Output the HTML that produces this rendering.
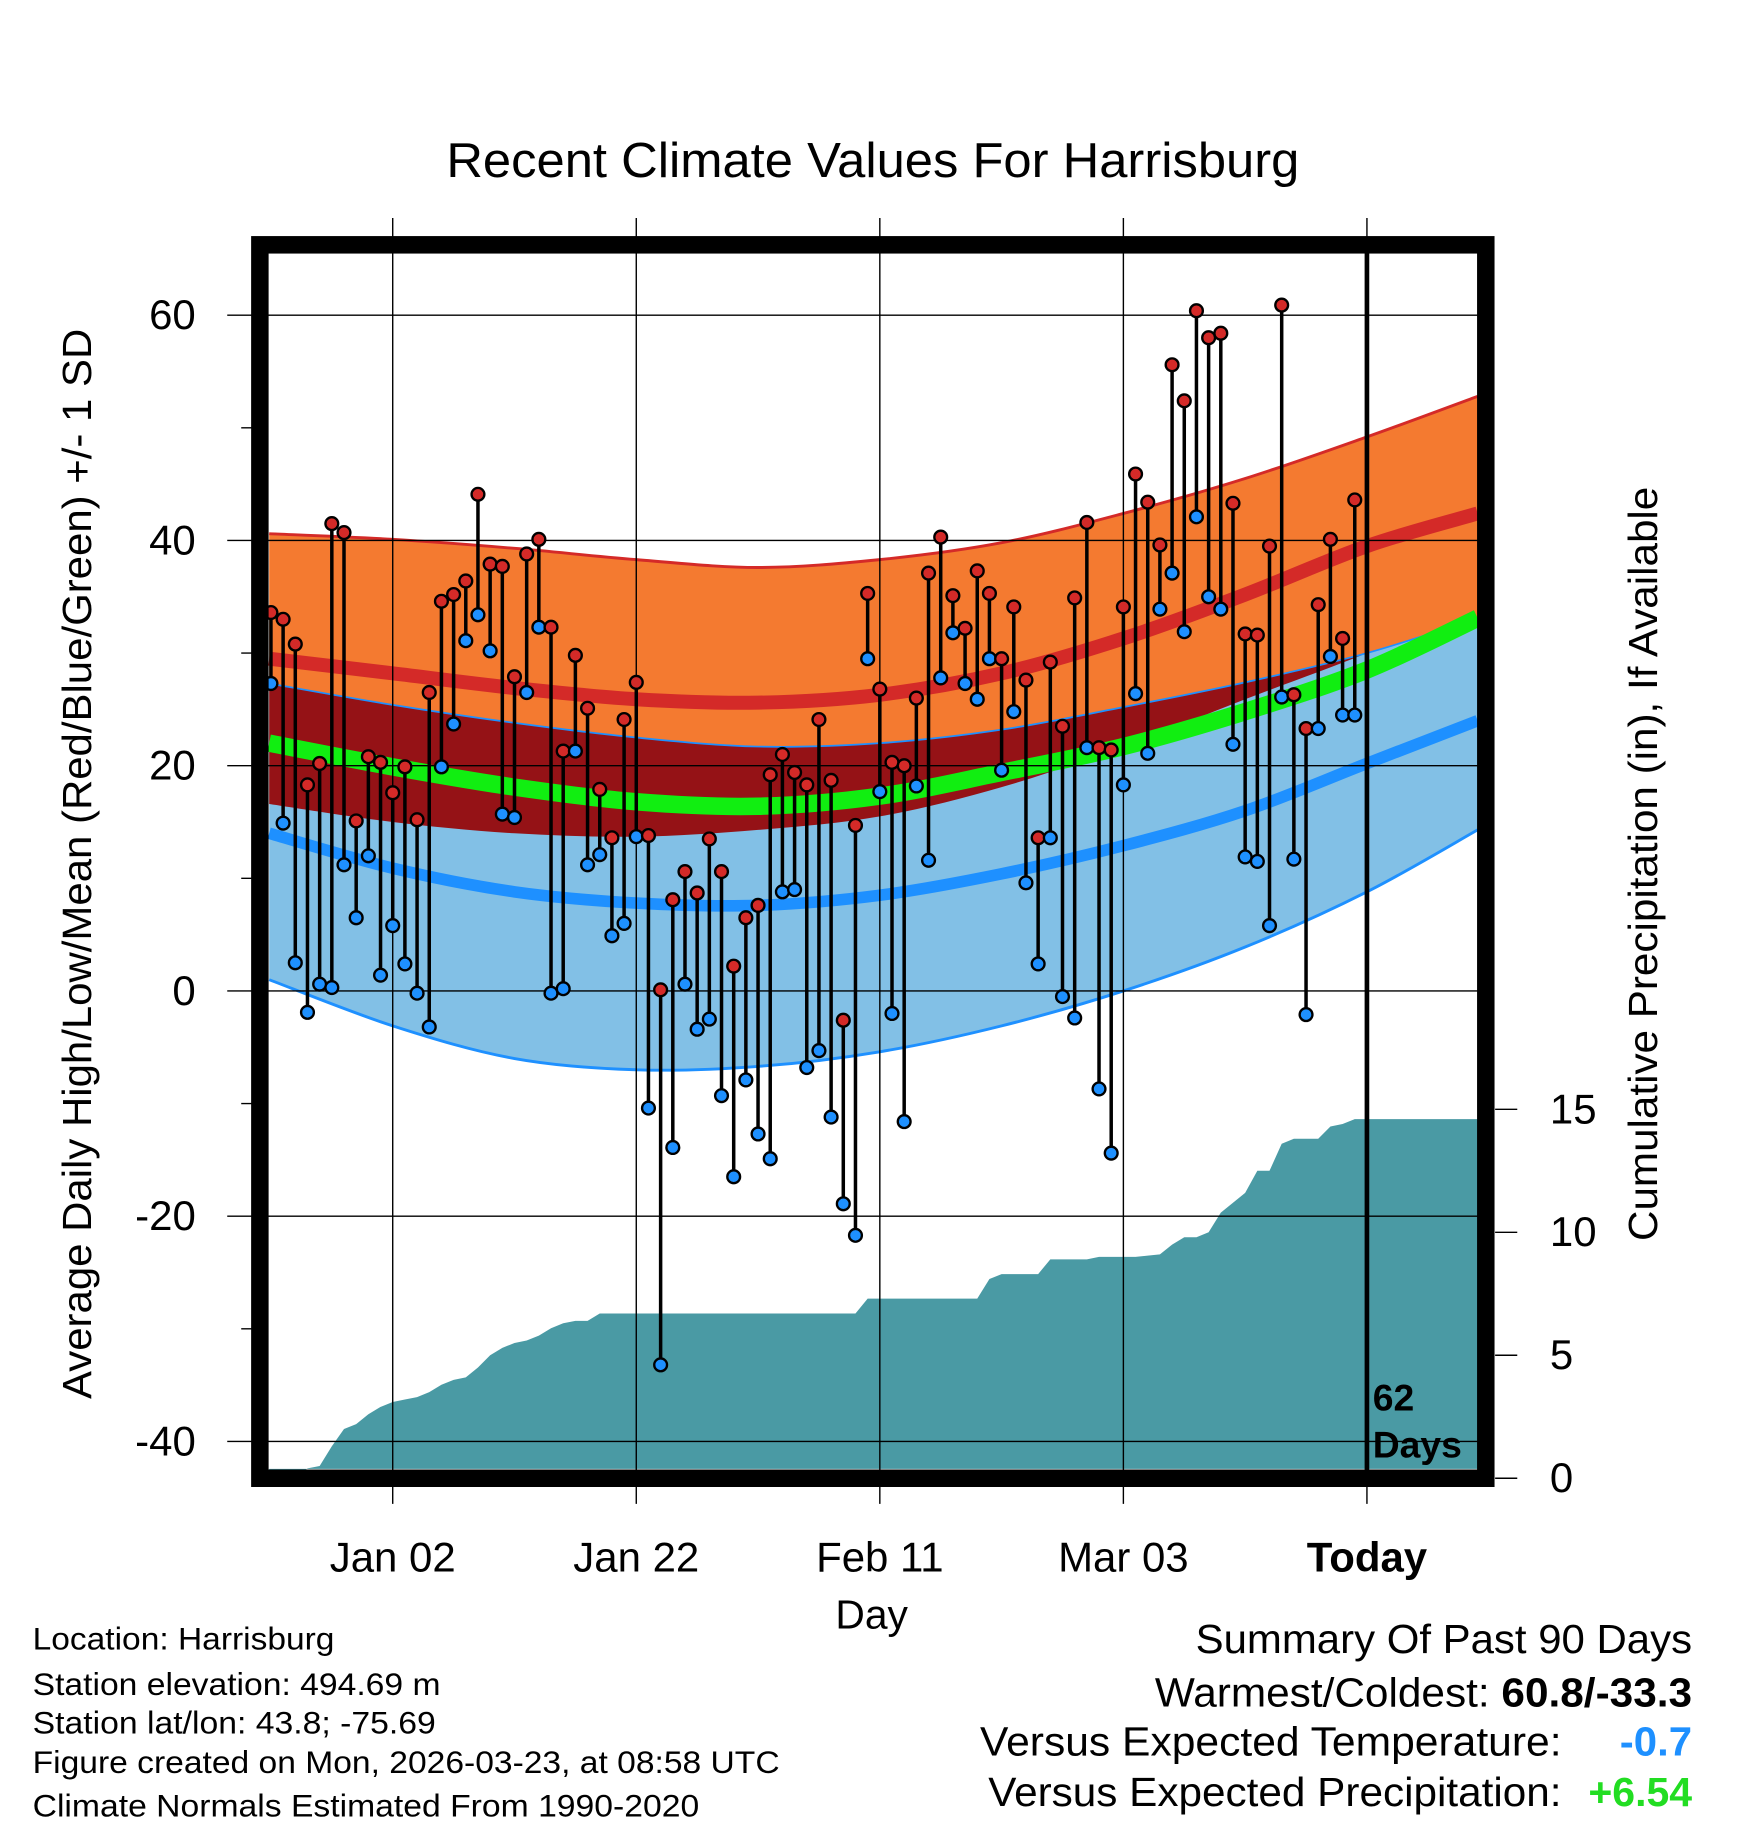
<!DOCTYPE html>
<html><head><meta charset="utf-8"><style>
html,body{margin:0;padding:0;background:#fff;}
svg{display:block;font-family:"Liberation Sans",Arial,sans-serif;}
</style></head><body>
<svg id="chart" width="1748" height="1828" viewBox="0 0 1500 1568" preserveAspectRatio="none" xmlns="http://www.w3.org/2000/svg">
<text x="749" y="152" font-size="42" text-anchor="middle" textLength="732" lengthAdjust="spacingAndGlyphs">Recent Climate Values For Harrisburg</text>
<g id="bands"></g>
<g id="precip"></g>
<g id="grid"></g>
<g id="marks"></g>
<g id="axes"></g>
<text x="748" y="1397" font-size="35" text-anchor="middle">Day</text>
<text transform="translate(78,741) rotate(-90)" font-size="35" text-anchor="middle" textLength="918" lengthAdjust="spacingAndGlyphs">Average Daily High/Low/Mean (Red/Blue/Green) +/- 1 SD</text>
<text transform="translate(1422,741) rotate(-90)" font-size="35" text-anchor="middle" textLength="647" lengthAdjust="spacingAndGlyphs">Cumulative Precipitation (in), If Available</text>
<text x="1178" y="1210" font-size="32" font-weight="bold">62</text>
<text x="1178" y="1250" font-size="32" font-weight="bold">Days</text>
<g font-size="27" lengthAdjust="spacingAndGlyphs">
<text x="28" y="1415" textLength="259" lengthAdjust="spacingAndGlyphs">Location: Harrisburg</text>
<text x="28" y="1454" textLength="350" lengthAdjust="spacingAndGlyphs">Station elevation: 494.69 m</text>
<text x="28" y="1487" textLength="346" lengthAdjust="spacingAndGlyphs">Station lat/lon: 43.8; -75.69</text>
<text x="28" y="1521" textLength="641" lengthAdjust="spacingAndGlyphs">Figure created on Mon, 2026-03-23, at 08:58 UTC</text>
<text x="28" y="1558" textLength="572" lengthAdjust="spacingAndGlyphs">Climate Normals Estimated From 1990-2020</text>
</g>
<g font-size="35">
<text x="1026" y="1418" textLength="426" lengthAdjust="spacingAndGlyphs">Summary Of Past 90 Days</text>
<text x="991" y="1464" textLength="461" lengthAdjust="spacingAndGlyphs">Warmest/Coldest: <tspan font-weight="bold">60.8/-33.3</tspan></text>
<text x="841" y="1506" textLength="499" lengthAdjust="spacingAndGlyphs">Versus Expected Temperature:</text>
<text x="1390" y="1506" font-weight="bold" fill="#1e90ff" textLength="62" lengthAdjust="spacingAndGlyphs">-0.7</text>
<text x="848" y="1549" textLength="492" lengthAdjust="spacingAndGlyphs">Versus Expected Precipitation:</text>
<text x="1363" y="1549" font-weight="bold" fill="#22dd22" textLength="89" lengthAdjust="spacingAndGlyphs">+6.54</text>
</g>
</svg>
<script>
// ---- data ----
const normDays = [-10,0,10,20,30,40,50,60,70,80,89];
const highTop  = [40.6,40.1,39.3,38.3,37.6,38.3,39.8,42.4,45.5,49.2,52.8];
const highMean = [29.5,28.2,26.9,25.9,25.6,26.3,28.2,31.3,35.2,39.5,42.4];
const lowTop   = [27.3,25.4,23.8,22.5,21.7,22.0,23.2,25.2,27.4,30.0,33.1];
const highBot  = [16.6,15.0,14.0,13.7,14.3,15.5,18.1,21.7,25.9,30.0,34.2];
const meanTemp = [22.0,19.9,18.1,16.8,16.4,17.3,19.4,21.7,24.8,28.5,33.1];
const lowMean  = [14.0,10.9,8.8,7.8,7.6,8.5,10.4,12.9,16.0,20.2,24.0];
const lowBot   = [1.0,-3.1,-6.0,-7.0,-6.7,-5.4,-3.1,0.0,3.9,8.8,14.3];
const highs = [33.6,33.0,30.8,18.3,20.2,41.5,40.7,15.1,20.8,20.3,17.6,19.9,15.2,26.5,34.6,35.2,36.4,44.1,37.9,37.7,27.9,38.8,40.1,32.3,21.3,29.8,25.1,17.9,13.6,24.1,27.4,13.8,0.1,8.1,10.6,8.7,13.5,10.6,2.2,6.5,7.6,19.2,21.0,19.4,18.3,24.1,18.7,-2.6,14.7,35.3,26.8,20.3,20.0,26.0,37.1,40.3,35.1,32.2,37.3,35.3,29.5,34.1,27.6,13.6,29.2,23.5,34.9,41.6,21.6,21.4,34.1,45.9,43.4,39.6,55.6,52.4,60.4,58.0,58.4,43.3,31.7,31.6,39.5,60.9,26.3,23.3,34.3,40.1,31.3,43.6];
const lows = [27.3,14.9,2.5,-1.9,0.6,0.3,11.2,6.5,12.0,1.4,5.8,2.4,-0.2,-3.2,19.9,23.7,31.1,33.4,30.2,15.7,15.4,26.5,32.3,-0.2,0.2,21.3,11.2,12.1,4.9,6.0,13.7,-10.4,-33.2,-13.9,0.6,-3.4,-2.5,-9.3,-16.5,-7.9,-12.7,-14.9,8.8,9.0,-6.8,-5.3,-11.2,-18.9,-21.7,29.5,17.7,-2.0,-11.6,18.2,11.6,27.8,31.8,27.3,25.9,29.5,19.6,24.8,9.6,2.4,13.6,-0.5,-2.4,21.6,-8.7,-14.4,18.3,26.4,21.1,33.9,37.1,31.9,42.1,35.0,33.9,21.9,11.9,11.5,5.8,26.1,11.7,-2.1,23.3,29.7,24.5,24.5];
const precip = [0,0,0,0.4,0.5,1.3,2.0,2.2,2.6,2.9,3.1,3.2,3.3,3.5,3.8,4.0,4.1,4.5,5.0,5.3,5.5,5.6,5.8,6.1,6.3,6.4,6.4,6.7,6.7,6.7,6.7,6.7,6.7,6.7,6.7,6.7,6.7,6.7,6.7,6.7,6.7,6.7,6.7,6.7,6.7,6.7,6.7,6.7,6.7,7.3,7.3,7.3,7.3,7.3,7.3,7.3,7.3,7.3,7.3,8.1,8.3,8.3,8.3,8.3,8.9,8.9,8.9,8.9,9.0,9.0,9.0,9.0,9.05,9.1,9.5,9.8,9.8,10.0,10.8,11.2,11.6,12.5,12.5,13.6,13.8,13.8,13.8,14.3,14.4,14.6];
const yTicks = [60,40,20,0,-20,-40];
const pTicks = [0,5,10,15];
const xTickDays = [0,20,40,60,80];
const xTickLabels = ["Jan 02","Jan 22","Feb 11","Mar 03","Today"];
const firstDay = -10;
// ---- scales ----
const X = d => 337 + 10.45*d;
const Y = v => 850 - 9.66*v;
const P = p => 1268 - 21.1*p;
const L=231,R=1268,T=218,B=1260;
const NS="http://www.w3.org/2000/svg";
function mk(tag,attrs,parent){const e=document.createElementNS(NS,tag);for(const k in attrs)e.setAttribute(k,attrs[k]);parent.appendChild(e);return e;}
function pts(vals){const p=normDays.map((d,i)=>[X(d),Y(vals[i])]);p[0][0]=L;p[p.length-1][0]=R;return p;}
function curve(p,start){
  let s=start+`${p[0][0]},${p[0][1]}`;
  for(let i=0;i<p.length-1;i++){const p0=p[Math.max(0,i-1)],p1=p[i],p2=p[i+1],p3=p[Math.min(p.length-1,i+2)];
    s+=` C${p1[0]+(p2[0]-p0[0])/6},${p1[1]+(p2[1]-p0[1])/6} ${p2[0]-(p3[0]-p1[0])/6},${p2[1]-(p3[1]-p1[1])/6} ${p2[0]},${p2[1]}`;}
  return s;}
function smooth(vals){return curve(pts(vals),'M');}
function revPath(vals){return curve(pts(vals).reverse(),' L')+' Z';}
const bands=document.getElementById('bands');
let e;
e=mk('path',{d:smooth(lowTop)+revPath(lowBot),fill:'#82c0e6'},bands);


e=mk('path',{d:smooth(lowTop)+revPath(highBot),fill:'#951216'},bands);


e=mk('path',{d:smooth(highTop)+revPath(lowTop),fill:'#f47a30'},bands);


e=mk('path',{d:smooth(highTop),fill:'none',stroke:'#d42a28','stroke-width':2.5},bands);


e=mk('path',{d:smooth(lowTop),fill:'none',stroke:'#1e90ff','stroke-width':1.5},bands);


e=mk('path',{d:smooth(lowBot),fill:'none',stroke:'#1e90ff','stroke-width':2.5},bands);


e=mk('path',{d:smooth(highMean),fill:'none',stroke:'#d42a28','stroke-width':12},bands);


e=mk('path',{d:smooth(meanTemp),fill:'none',stroke:'#11ee11','stroke-width':15},bands);


e=mk('path',{d:smooth(lowMean),fill:'none',stroke:'#1e90ff','stroke-width':10},bands);


// precip
const pg=document.getElementById('precip');
let pd=`M${L},${P(0)}`;
precip.forEach((p,i)=>{pd+=` L${X(firstDay+i)},${P(p)}`;});
pd+=` L${R},${P(precip[precip.length-1])} L${R},${B} L${L},${B} Z`;
e=mk('path',{d:pd,fill:'#4a9aa4'},pg);


// grid
const g=document.getElementById('grid');
yTicks.forEach(v=>{e=mk('line',{x1:195,x2:R,y1:Y(v),y2:Y(v),stroke:'#000','stroke-width':1.2},g);

});
xTickDays.forEach(d=>{e=mk('line',{x1:X(d),x2:X(d),y1:187,y2:1290,stroke:'#000','stroke-width':1.2},g);

});
// marks
const m=document.getElementById('marks');
highs.forEach((h,i)=>{const x=X(firstDay+i);
  e=mk('line',{x1:x,x2:x,y1:Y(h),y2:Y(lows[i]),stroke:'#000','stroke-width':3},m);
  
  
  e=mk('circle',{cx:x,cy:Y(h),r:5.5,fill:'#d42a28',stroke:'#000','stroke-width':2},m);
  
  
  e=mk('circle',{cx:x,cy:Y(lows[i]),r:5.5,fill:'#1e90ff',stroke:'#000','stroke-width':2},m);
  
  
});
// axes
const a=document.getElementById('axes');
e=mk('line',{x1:X(80),x2:X(80),y1:210,y2:1268,stroke:'#000','stroke-width':4},a);


e=mk('rect',{x:223,y:210,width:1052,height:1058,fill:'none',stroke:'#000','stroke-width':15},a);


yTicks.forEach(v=>{e=mk('text',{x:168,y:Y(v)+12,'font-size':36,'text-anchor':'end'},a);e.textContent=v;

});
[50,30,10,-10,-30].forEach(v=>{e=mk('line',{x1:207,x2:223,y1:Y(v),y2:Y(v),stroke:'#000','stroke-width':1.2},a);

});
pTicks.forEach(p=>{e=mk('line',{x1:1283,x2:1302,y1:P(p),y2:P(p),stroke:'#000','stroke-width':1.2},a);


e=mk('text',{x:1330,y:P(p)+12,'font-size':36},a);e.textContent=p;

});
xTickDays.forEach((d,i)=>{e=mk('text',{x:X(d),y:1348,'font-size':36,'text-anchor':'middle'},a);e.textContent=xTickLabels[i];
if(i===4)e.setAttribute('font-weight','bold');

});
</script>
</body></html>
